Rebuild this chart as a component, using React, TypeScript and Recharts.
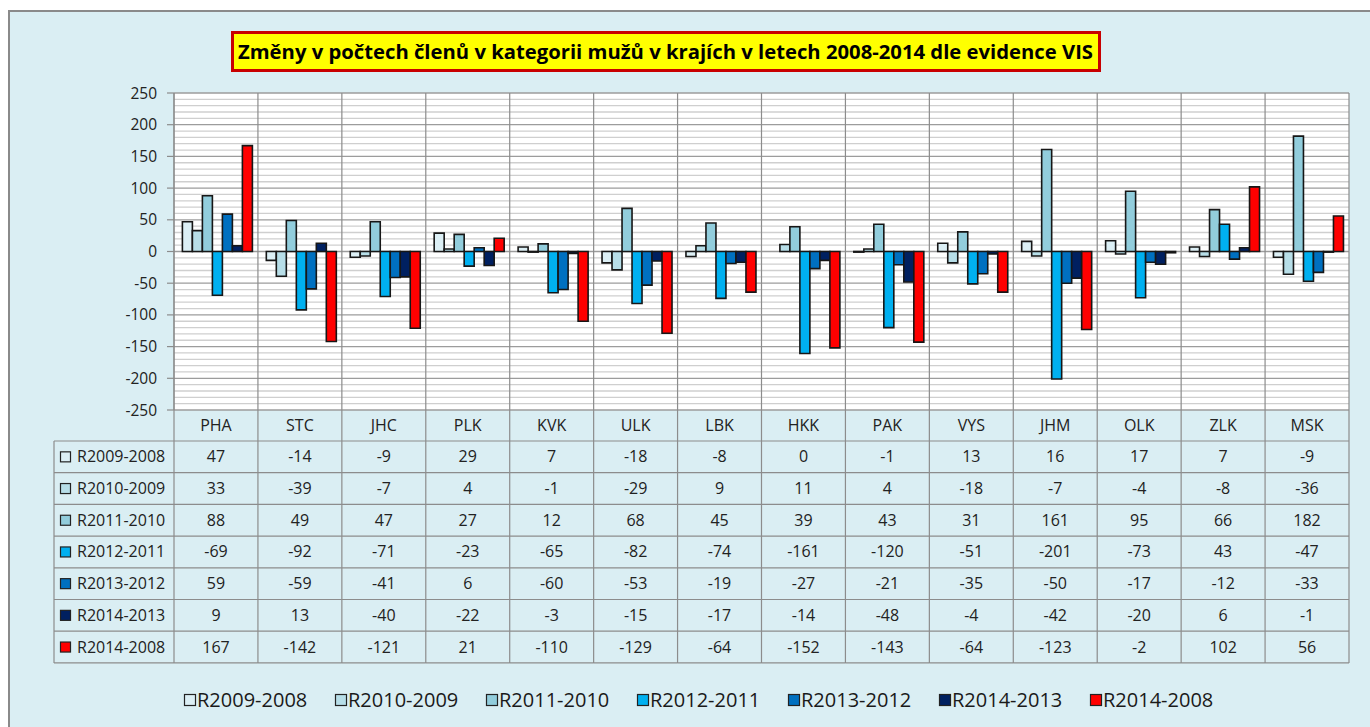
import React from 'react';
import { BarChart, Bar, XAxis, YAxis, CartesianGrid } from 'recharts';

const categories = ['PHA', 'STC', 'JHC', 'PLK', 'KVK', 'ULK', 'LBK', 'HKK', 'PAK', 'VYS', 'JHM', 'OLK', 'ZLK', 'MSK'];
const seriesNames = ['R2009-2008', 'R2010-2009', 'R2011-2010', 'R2012-2011', 'R2013-2012', 'R2014-2013', 'R2014-2008'];
const r2009_2008 = [47, -14, -9, 29, 7, -18, -8, 0, -1, 13, 16, 17, 7, -9];
const r2010_2009 = [33, -39, -7, 4, -1, -29, 9, 11, 4, -18, -7, -4, -8, -36];
const r2011_2010 = [88, 49, 47, 27, 12, 68, 45, 39, 43, 31, 161, 95, 66, 182];
const r2012_2011 = [-69, -92, -71, -23, -65, -82, -74, -161, -120, -51, -201, -73, 43, -47];
const r2013_2012 = [59, -59, -41, 6, -60, -53, -19, -27, -21, -35, -50, -17, -12, -33];
const r2014_2013 = [9, 13, -40, -22, -3, -15, -17, -14, -48, -4, -42, -20, 6, -1];
const r2014_2008 = [167, -142, -121, 21, -110, -129, -64, -152, -143, -64, -123, -2, 102, 56];
const seriesValues = [r2009_2008, r2010_2009, r2011_2010, r2012_2011, r2013_2012, r2014_2013, r2014_2008];
const seriesColors = ['#DCEFF5', '#B7DEE8', '#92CDDC', '#00B0F0', '#0070C0', '#002060', '#FF0000'];
const yTicks = [250, 200, 150, 100, 50, 0, -50, -100, -150, -200, -250];
const minorValues: number[] = [];
for (let v = -250; v <= 250; v += 10) if (v % 50 !== 0) minorValues.push(v);

const TITLE = 'Změny v počtech členů v kategorii mužů v krajích v letech 2008-2014 dle evidence VIS';

const data = categories.map((name, i) => {
  const row: Record<string, string | number> = { name };
  seriesValues.forEach((arr, s) => {
    row[`s${s}`] = arr[i];
  });
  return row;
});

const FONT = "'Open Sans', 'Noto Sans', sans-serif";
const W = 1360;
const H = 715;
const PLOT_LEFT = 164;
const PLOT_RIGHT = 1339;
const PLOT_TOP = 81;
const PLOT_BOTTOM = 398;
const HEADER_BOTTOM = 429;
const ROW_H = 31.7;
const TABLE_BOTTOM = HEADER_BOTTOM + ROW_H * 7;
const TABLE_LEFT = 44;
const BAND = (PLOT_RIGHT - PLOT_LEFT) / categories.length;
const LINE = '#8c8c8c';
const TXT = '#222222';

const TableTick = (props: any) => {
  const { x, index, payload } = props;
  const half = BAND / 2;
  const els: React.ReactNode[] = [];
  els.push(
    <line key="vr" x1={x + half} x2={x + half} y1={PLOT_TOP} y2={TABLE_BOTTOM} stroke={LINE} strokeWidth={1.2} />
  );
  els.push(
    <text key="hd" x={x} y={(PLOT_BOTTOM + HEADER_BOTTOM) / 2 + 5.5} textAnchor="middle" fontSize={16} fontFamily={FONT} fill={TXT}>
      {payload.value}
    </text>
  );
  for (let r = 0; r <= 7; r++) {
    const yy = HEADER_BOTTOM + r * ROW_H;
    els.push(<line key={`h${r}`} x1={x - half} x2={x + half} y1={yy} y2={yy} stroke={LINE} strokeWidth={1.2} />);
  }
  seriesValues.forEach((arr, s) => {
    els.push(
      <text key={`v${s}`} x={x} y={HEADER_BOTTOM + s * ROW_H + ROW_H / 2 + 5.5} textAnchor="middle" fontSize={16} fontFamily={FONT} fill={TXT}>
        {arr[index]}
      </text>
    );
  });
  if (index === 0) {
    els.push(
      <line key="vl" x1={x - half} x2={x - half} y1={PLOT_TOP} y2={TABLE_BOTTOM} stroke={LINE} strokeWidth={1.2} />
    );
    els.push(
      <line key="vt" x1={TABLE_LEFT} x2={TABLE_LEFT} y1={HEADER_BOTTOM} y2={TABLE_BOTTOM} stroke={LINE} strokeWidth={1.2} />
    );
    for (let r = 0; r <= 7; r++) {
      const yy = HEADER_BOTTOM + r * ROW_H;
      els.push(<line key={`lh${r}`} x1={TABLE_LEFT} x2={x - half} y1={yy} y2={yy} stroke={LINE} strokeWidth={1.2} />);
    }
    seriesNames.forEach((nm, s) => {
      const cy = HEADER_BOTTOM + s * ROW_H + ROW_H / 2;
      els.push(
        <rect key={`ls${s}`} x={50.5} y={cy - 5} width={10} height={10} fill={seriesColors[s]} stroke="#222" strokeWidth={1.2} />
      );
      els.push(
        <text key={`lt${s}`} x={67} y={cy + 5.5} fontSize={16} fontFamily={FONT} fill={TXT}>
          {nm}
        </text>
      );
    });
  }
  return <g>{els}</g>;
};

export default function App() {
  return (
    <div style={{ position: 'relative', width: 1354, height: 719 }}>
      <div
        style={{
          position: 'fixed',
          left: 8,
          top: 10,
          right: 0,
          bottom: 0,
          background: '#DAEEF3',
          borderLeft: '2px solid #8a8a8a',
          borderTop: '2px solid #8a8a8a',
          overflow: 'hidden',
        }}
      >
        <div style={{ position: 'absolute', left: 0, top: 0 }}>
          <BarChart
            width={W}
            height={H}
            data={data}
            margin={{ top: PLOT_TOP, left: PLOT_LEFT - 50, right: W - PLOT_RIGHT, bottom: H - TABLE_BOTTOM }}
            barCategoryGap="10%"
            barGap={0}
          >
            <CartesianGrid fill="#ffffff" vertical={false} horizontalValues={minorValues} stroke="#cfcfcf" strokeWidth={1.3} />
            <CartesianGrid vertical={false} horizontalValues={yTicks} stroke="#9c9c9c" strokeWidth={1.3} />
            <XAxis
              dataKey="name"
              axisLine={false}
              tickLine={false}
              interval={0}
              height={TABLE_BOTTOM - PLOT_BOTTOM}
              tick={<TableTick />}
            />
            <YAxis
              width={50}
              domain={[-250, 250]}
              ticks={yTicks}
              interval={0}
              axisLine={{ stroke: LINE, strokeWidth: 1.2 }}
              tickLine={{ stroke: LINE, strokeWidth: 1.2 }}
              tickSize={7}
              tickMargin={10}
              tick={{ fontSize: 15.5, fontFamily: FONT, fill: TXT }}
            />
            {seriesNames.map((nm, s) => (
              <Bar
                key={nm}
                dataKey={`s${s}`}
                name={nm}
                fill={seriesColors[s]}
                stroke="#161616"
                strokeWidth={1.6}
                isAnimationActive={false}
              />
            ))}
          </BarChart>
        </div>
        <svg style={{ position: 'absolute', left: 221, top: 19 }} width={870} height={41}>
          <rect x={1.5} y={1.5} width={867} height={38} fill="#FFFF00" stroke="#C80000" strokeWidth={3} />
          <text
            x={7}
            y={27.5}
            fontSize={20}
            fontWeight="bold"
            fontFamily={FONT}
            fill="#000"
            textLength={855}
            lengthAdjust="spacingAndGlyphs"
          >
            {TITLE}
          </text>
        </svg>
        <svg style={{ position: 'absolute', left: 0, top: 670 }} width={W} height={36}>
          {seriesNames.map((nm, s) => (
            <g key={nm}>
              <rect x={174.5 + s * 151} y={12.5} width={11} height={11} fill={seriesColors[s]} stroke="#222" strokeWidth={1.2} />
              <text x={187 + s * 151} y={25} fontSize={20} fontFamily={FONT} fill="#1a1a1a">
                {nm}
              </text>
            </g>
          ))}
        </svg>
      </div>
    </div>
  );
}
